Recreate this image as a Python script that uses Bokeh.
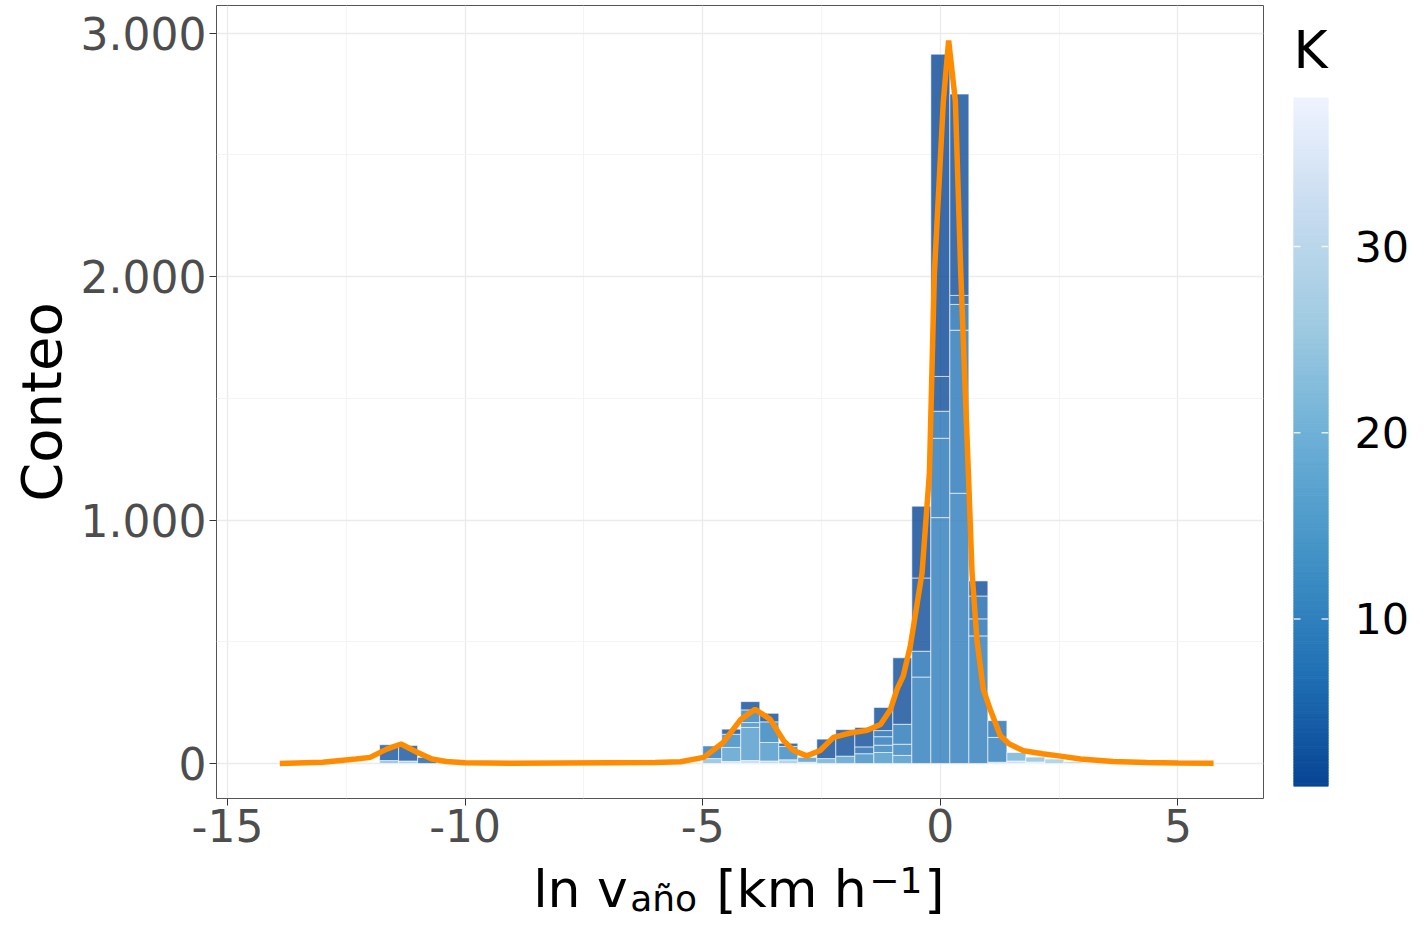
import numpy as np
from bokeh.plotting import figure
from bokeh.models import (ColumnDataSource, FixedTicker, CustomJSTickFormatter, Label,
                          Range1d, LinearAxis)
from bokeh.layouts import row, column
from bokeh.transform import linear_cmap
from bokeh.embed import file_html
from bokeh.resources import INLINE

# ---------------- data ----------------
bin_width = 0.4
# stacked histogram segments: bin centre, K value, count
seg_center = [-11.6, -11.6, -11.2, -11.2, -10.8,
              -4.8, -4.8,
              -4.4, -4.4, -4.4, -4.4,
              -4.0, -4.0, -4.0, -4.0, -4.0,
              -3.6, -3.6, -3.6, -3.6,
              -3.2, -3.2, -3.2,
              -2.8, -2.8,
              -2.4, -2.4,
              -2.0, -2.0,
              -1.6, -1.6, -1.6,
              -1.2, -1.2, -1.2, -1.2, -1.2,
              -0.8, -0.8, -0.8, -0.8,
              -0.4, -0.4, -0.4, -0.4,
              0.0, 0.0, 0.0, 0.0, 0.0,
              0.4, 0.4, 0.4, 0.4, 0.4,
              0.8, 0.8, 0.8, 0.8,
              1.2, 1.2, 1.2,
              1.6, 1.6,
              2.0, 2.0,
              2.4, 2.8, 3.2]
seg_K = [3, 23, 3, 26, 5,
         8, 23,
         2, 11, 16, 33,
         2, 10, 12, 15, 31,
         2, 10, 14, 29,
         2, 11, 26,
         15, 31,
         2, 19,
         2, 16,
         2, 6, 12,
         2, 6, 8, 10, 14,
         2, 8, 10, 14,
         1, 2, 7, 9,
         1, 2, 7, 8, 9,
         2, 4, 7, 8, 9,
         2, 6, 7, 9,
         7, 9, 26,
         20, 31,
         23, 33,
         26, 29, 31]
seg_count = [65, 12, 64, 10, 25,
             52, 20,
             21, 54, 58, 8,
             34, 52, 20, 136, 12,
             35, 85, 76, 10,
             13, 55, 15,
             20, 5,
             80, 20,
             109, 30,
             80, 28, 40,
             95, 25, 35, 30, 45,
             273, 82, 46, 33,
             295, 301, 106, 355,
             1324, 143, 111, 326, 1010,
             827, 37, 106, 670, 1110,
             62, 94, 70, 524,
             69, 102, 5,
             35, 10,
             20, 6,
             18, 8, 4]

# density curve (scaled to counts)
dens_x = [-13.9, -13.0, -12.3, -12.0, -11.65, -11.35, -11.0, -10.7, -10.4, -10.0,
          -9.0, -8.0, -7.0, -6.0, -5.47, -4.98, -4.57, -4.2, -3.9, -3.58,
          -3.3, -3.09, -2.81, -2.53, -2.25, -1.9, -1.54, -1.26, -1.05, -0.91,
          -0.78, -0.63, -0.385, -0.23, -0.126, 0.063, 0.175, 0.316, 0.43, 0.59,
          0.667, 0.77, 0.905, 1.05, 1.26, 1.45, 1.75, 2.15, 2.53, 2.95,
          3.64, 4.35, 5.0, 5.75]
dens_y = [0, 5, 18, 25, 59, 80, 45, 18, 8, 3,
          1, 2, 3, 4, 7, 25, 86, 181, 223, 181,
          94, 53, 31, 53, 107, 125, 136, 160, 222, 305,
          360, 484, 783, 1193, 2012, 2721, 2970, 2721, 2012, 1193,
          783, 508, 303, 222, 115, 80, 52, 40, 30, 18,
          8, 4, 2, 1]

x_ticks = [-15, -10, -5, 0, 5]
x_minor = [-12.5, -7.5, -2.5, 2.5]
y_ticks = [0, 1000, 2000, 3000]
y_minor = [500, 1500, 2500]
k_ticks = [10, 20, 30]
k_low, k_high = 1, 38

x_title_parts = ["ln v", "año", "[km h", "\u22121", "]"]
y_title = "Conteo"
cbar_title = "K"

FONT = "DejaVu Sans"
X_RANGE = (-15.232, 6.8)

# ---------------- palette (Blues, reversed) ----------------
stops = ['#084594', '#2171b5', '#4292c6', '#6baed6', '#9ecae1', '#c6dbef', '#eff3ff']
def hex2rgb(h):
    return [int(h[i:i + 2], 16) for i in (1, 3, 5)]
palette = []
for i in range(256):
    t = i / 255 * (len(stops) - 1)
    j = min(int(t), len(stops) - 2)
    f = t - j
    a, b = hex2rgb(stops[j]), hex2rgb(stops[j + 1])
    c = [int(round(a[k] + (b[k] - a[k]) * f)) for k in range(3)]
    palette.append('#%02x%02x%02x' % tuple(c))

# ---------------- stack segments ----------------
lefts, rights, bottoms, tops, ks = [], [], [], [], []
for c in sorted(set(seg_center)):
    segs = sorted([(k, n) for cc, k, n in zip(seg_center, seg_K, seg_count) if cc == c],
                  key=lambda s: -s[0])
    base = 0
    for k, n in segs:
        lefts.append(c - bin_width / 2)
        rights.append(c + bin_width / 2)
        bottoms.append(base)
        tops.append(base + n)
        ks.append(k)
        base += n
src = ColumnDataSource(dict(left=lefts, right=rights, bottom=bottoms, top=tops, K=ks))

# ---------------- main figure ----------------
P_H = 858
p = figure(width=1270, height=P_H, output_backend="svg", toolbar_location=None,
           x_range=Range1d(*X_RANGE), y_range=Range1d(-144, 3114),
           min_border_left=216, min_border_right=7, min_border_top=5,
           min_border_bottom=60)
p.background_fill_color = "white"
p.border_fill_color = "white"
p.outline_line_color = "#555555"
p.outline_line_width = 1

p.quad(left='left', right='right', bottom='bottom', top='top', source=src,
       fill_color=linear_cmap('K', palette, k_low, k_high), fill_alpha=0.8,
       line_color="white", line_width=0.7, line_alpha=0.85)
p.line(dens_x, dens_y, line_color="#ff8c00", line_width=5.5)

xt = FixedTicker(ticks=x_ticks, minor_ticks=x_minor)
yt = FixedTicker(ticks=y_ticks, minor_ticks=y_minor)
p.xaxis.ticker = xt
p.yaxis.ticker = yt
p.xgrid.ticker = xt
p.ygrid.ticker = yt
p.xaxis.formatter = CustomJSTickFormatter(code="return tick.toString();")
p.yaxis.formatter = CustomJSTickFormatter(
    code=r"return Math.round(tick).toString().replace(/\B(?=(\d{3})+(?!\d))/g, '.');")

for g in (p.xgrid, p.ygrid):
    g.grid_line_color = "#ebebeb"
    g.grid_line_width = 1.3
    g.minor_grid_line_color = "#f3f3f3"
    g.minor_grid_line_width = 0.9

for ax in (p.xaxis, p.yaxis):
    ax.axis_line_color = None
    ax.major_tick_line_color = "#333333"
    ax.major_tick_line_width = 1
    ax.major_tick_in = 0
    ax.major_tick_out = 7
    ax.minor_tick_line_color = None
    ax.major_label_text_font = FONT
    ax.major_label_text_font_size = "44px"
    ax.major_label_text_color = "#4d4d4d"
p.yaxis.major_label_standoff = 3
p.xaxis.major_label_standoff = 3

p.yaxis.axis_label = y_title
p.yaxis.axis_label_text_font = FONT
p.yaxis.axis_label_text_font_size = "56px"
p.yaxis.axis_label_text_font_style = "normal"
p.yaxis.axis_label_text_color = "black"
p.yaxis.axis_label_standoff = 4

# ---------------- x title strip (sub/superscripts) ----------------
T_H = 919 - P_H
p3 = figure(width=1270, height=T_H, output_backend="svg", toolbar_location=None,
            x_range=Range1d(*X_RANGE), y_range=Range1d(0, T_H),
            min_border_left=216, min_border_right=7, min_border_top=0, min_border_bottom=0,
            x_axis_type=None, y_axis_type=None)
p3.outline_line_color = None
p3.background_fill_color = "white"
p3.border_fill_color = "white"
sx = lambda px: (px - 940) / 47.5
# (text, left edge px, baseline px, font px)
pieces = [
    (x_title_parts[0], 533, 906, 52),
    (x_title_parts[1], 630, 910, 36),
    (x_title_parts[2], 716, 906, 52),
    (x_title_parts[3], 869, 892, 36),
    (x_title_parts[4], 924, 906, 52),
]
for txt, px, base, fs in pieces:
    p3.add_layout(Label(x=sx(px), y=919 - base + 0.34 * fs, text=txt, text_font=FONT,
                        text_font_size=f"{fs}px", text_color="black", text_align="left",
                        text_baseline="alphabetic"))

# ---------------- colour bar ----------------
p2 = figure(width=142, height=919, output_backend="svg", toolbar_location=None,
            x_range=Range1d(0, 1), y_range=Range1d(k_low, k_high),
            min_border_left=23, min_border_right=81, min_border_top=96,
            min_border_bottom=133, x_axis_type=None, y_axis_type=None)
p2.outline_line_color = None
p2.background_fill_color = "white"
p2.border_fill_color = "white"
edges = np.linspace(k_low, k_high, len(palette) + 1)
p2.quad(left=0, right=1, bottom=edges[:-1], top=edges[1:], fill_color=palette,
        line_color=palette, line_width=1)
p2.segment(x0=0, x1=0.2, y0=k_ticks, y1=k_ticks, line_color="white", line_width=1.5,
           line_alpha=0.8)
p2.segment(x0=0.8, x1=1, y0=k_ticks, y1=k_ticks, line_color="white", line_width=1.5,
           line_alpha=0.8)
kax = LinearAxis(ticker=FixedTicker(ticks=k_ticks), axis_line_color=None,
                 major_tick_line_color=None, minor_tick_line_color=None,
                 major_tick_in=0, major_tick_out=0, major_label_standoff=26,
                 major_label_text_font=FONT, major_label_text_font_size="43px",
                 major_label_text_color="black")
p2.add_layout(kax, 'right')
p2.title.text = cbar_title
p2.title.text_font = FONT
p2.title.text_font_size = "52px"
p2.title.text_font_style = "normal"
p2.title.text_color = "black"
p2.title.align = "left"
p2.title.standoff = 35

layout = row(column(p, p3), p2)
open("out.html", "w").write(file_html(layout, INLINE))
